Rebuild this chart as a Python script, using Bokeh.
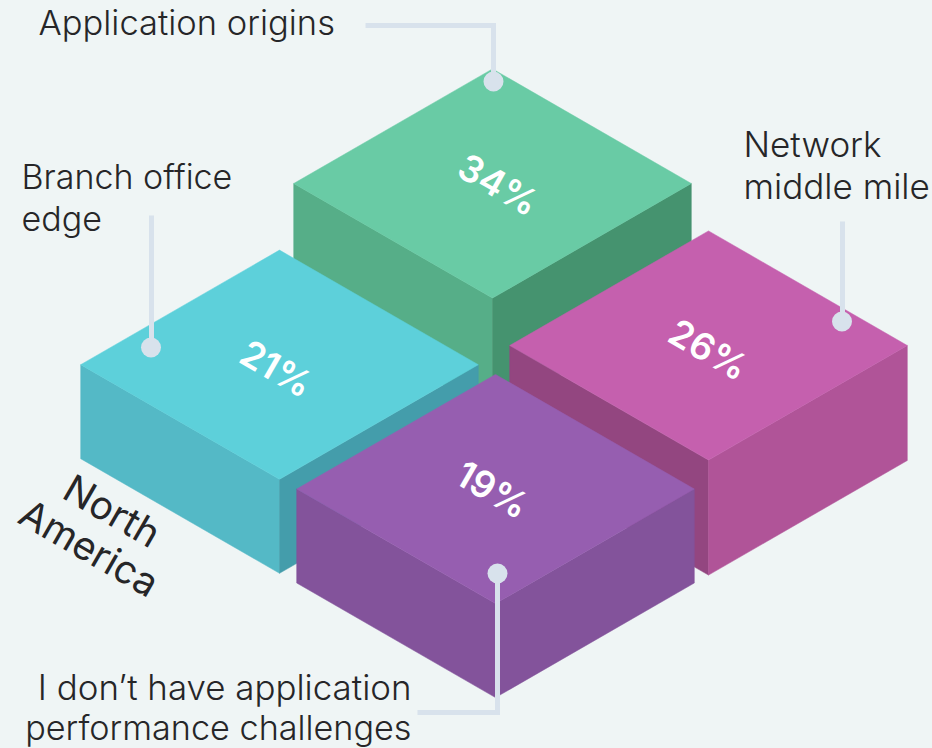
from bokeh.plotting import figure
from bokeh.models import Range1d, ColumnDataSource
from bokeh.core.properties import value
from bokeh.embed import file_html
from bokeh.resources import INLINE
import math

# ---- data ----
categories = ["Application origins", "Branch office edge", "Network middle mile",
              "I don't have application performance challenges"]
shares = [34, 21, 26, 19]
top_colors = ["#69cba5", "#5dd0da", "#c560ae", "#965eb0"]
left_colors = ["#56ae88", "#54b9c6", "#934680", "#83539b"]
right_colors = ["#45936f", "#449dab", "#b05498", "#83539b"]

# ---- layout (reference pixels) ----
W, H = 932, 748
BG = "#eff5f5"
INK = "#262628"
LEAD = "#d8e2ec"
HALF_W, HALF_H = 198.8, 114.6
TALL, SHORT = 115, 94
centers = [(492, 183), (279, 364.2), (708, 345), (495, 488.5)]
share_labels = [(498, 184), (276, 368), (708, 349), (492, 489)]
FONT = "Inter Light"


def faces(cx, cy, h):
    top = ([cx, cx + HALF_W, cx, cx - HALF_W], [cy - HALF_H, cy, cy + HALF_H, cy])
    left = ([cx - HALF_W, cx, cx, cx - HALF_W], [cy, cy + HALF_H, cy + HALF_H + h, cy + h])
    right = ([cx, cx + HALF_W, cx + HALF_W, cx], [cy + HALF_H, cy, cy + h, cy + HALF_H + h])
    return top, left, right


p = figure(width=W, height=H, x_range=Range1d(0, W), y_range=Range1d(H, 0),
           output_backend="svg", toolbar_location=None, min_border=0,
           background_fill_color=BG, border_fill_color=BG, outline_line_color=None)
p.axis.visible = False
p.grid.visible = False

# draw order: back to front
for i in [0, 1, 2, 3]:
    cx, cy = centers[i]
    h = TALL if shares[i] >= 25 else SHORT
    top, left, right = faces(cx, cy, h)
    p.patches([left[0], right[0], top[0]], [left[1], right[1], top[1]],
              fill_color=[left_colors[i], right_colors[i], top_colors[i]],
              line_color=[left_colors[i], right_colors[i], top_colors[i]], line_width=0.5)

# leader lines
leaders = [
    ([365, 493, 493], [25, 25, 81]),
    ([151, 151], [215, 347]),
    ([842, 842], [221, 321]),
    ([497, 497, 417], [573, 712, 712]),
]
for xs, ys in leaders:
    p.line(xs, ys, line_color=LEAD, line_width=5, line_join="miter", line_cap="butt")
dots = ColumnDataSource(dict(x=[493, 150.5, 841.5, 497], y=[81, 347, 321, 573]))
p.scatter("x", "y", source=dots, size=20, fill_color=LEAD, line_color=None)

# percentage labels on top faces
ptxt = ColumnDataSource(dict(x=[c[0] for c in share_labels], y=[c[1] for c in share_labels],
                             t=[f"{s}%" for s in shares]))
p.text("x", "y", text="t", source=ptxt, text_color="#ffffff", text_font=value("Inter SemiBold"),
       text_font_size="37px", text_align="center",
       text_baseline="middle", angle=-math.radians(30))

# callout labels, left aligned
ltxt = ColumnDataSource(dict(
    x=[38, 21, 21, 743, 743],
    y=[22, 176, 218, 143, 185],
    t=["Application origins", "Branch office", "edge", "Network", "middle mile"],
    s=["34.5px", "34px", "34px", "35px", "35px"]))
p.text("x", "y", text="t", source=ltxt, text_color=INK, text_font=value(FONT),
       text_font_size="s", text_align="left", text_baseline="middle")

# callout labels, right aligned
rtxt = ColumnDataSource(dict(
    x=[411, 411], y=[686, 727],
    t=["I don\u2019t have application", "performance challenges"],
    s=["34.9px", "34.2px"]))
p.text("x", "y", text="t", source=rtxt, text_color=INK, text_font=value(FONT),
       text_font_size="s", text_align="right", text_baseline="middle")

# region label, isometric
ntxt = ColumnDataSource(dict(x=[112, 89], y=[510, 547], t=["North", "America"]))
p.text("x", "y", text="t", source=ntxt, text_color=INK, text_font=value("Inter"),
       text_font_size="39px", text_align="center", text_baseline="middle",
       angle=-math.radians(30))

html = file_html(p, INLINE)
html = html.replace("</head>",
                    f"<style>html,body{{margin:0;padding:0;background:{BG};overflow:hidden}}</style></head>", 1)
open("out.html", "w").write(html)
